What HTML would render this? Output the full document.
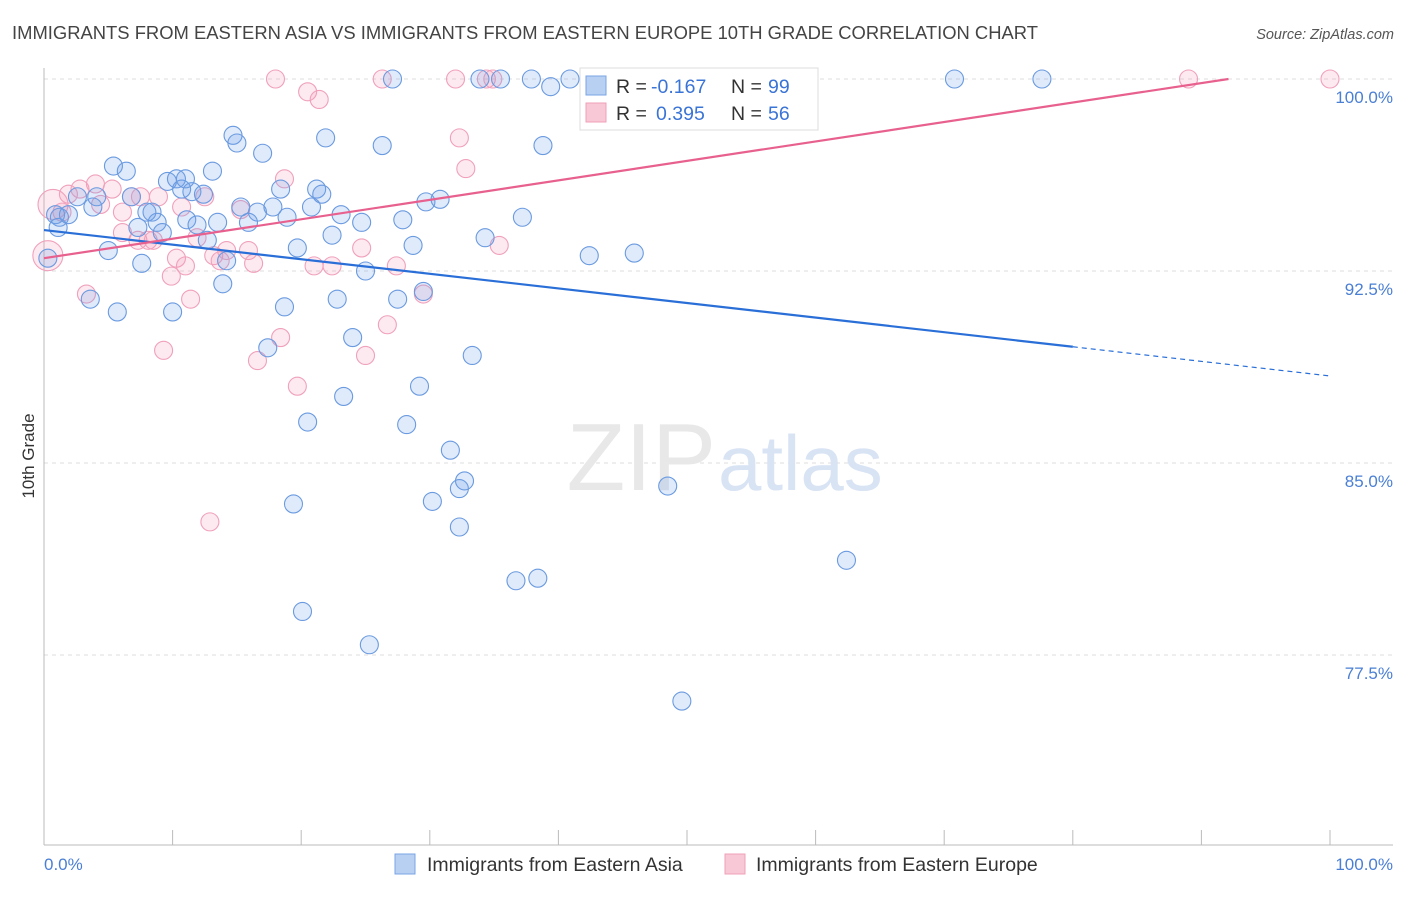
<!DOCTYPE html>
<html><head><meta charset="utf-8"><style>
body{margin:0;background:#fff;font-family:"Liberation Sans",sans-serif;}
svg text{font-family:"Liberation Sans",sans-serif;}
</style></head><body>
<svg id="chart" width="1406" height="892" viewBox="0 0 1406 892" xmlns="http://www.w3.org/2000/svg">
<text x="12" y="39" font-size="18" fill="#444" textLength="1026" lengthAdjust="spacingAndGlyphs">IMMIGRANTS FROM EASTERN ASIA VS IMMIGRANTS FROM EASTERN EUROPE 10TH GRADE CORRELATION CHART</text>
<text x="1394" y="39" font-size="14.5" fill="#555" font-style="italic" text-anchor="end">Source: ZipAtlas.com</text>
<g id="grid"></g>
<text x="716" y="490" font-size="96" fill="#e8e8e8" font-family="Liberation Serif" text-anchor="end">ZIP</text>
<text x="718" y="490" font-size="78" fill="#d8e3f4">atlas</text>
<line x1="44" y1="68" x2="44" y2="845" stroke="#bbb"/>
<line x1="44" y1="845" x2="1393" y2="845" stroke="#bbb"/>
<g id="ticks"></g>
<g id="points"></g>
<g id="trends"></g>
<text x="34" y="456" font-size="17" fill="#333" transform="rotate(-90 34 456)" text-anchor="middle">10th Grade</text>
<text x="44" y="870" font-size="17" fill="#4a7fd4">0.0%</text>
<text x="1393" y="870" font-size="17" fill="#4a7fd4" text-anchor="end">100.0%</text>
<g>
<rect x="580" y="68" width="238" height="62" fill="#fff" stroke="#ddd"/>
<rect x="586" y="76" width="20" height="19" fill="#b8d0f2" stroke="#7aa4e4"/>
<rect x="586" y="103" width="20" height="19" fill="#f8c8d6" stroke="#f0a0b8"/>
<text x="616" y="93" font-size="19.5" fill="#333">R = </text><text x="651" y="93" font-size="19.5" fill="#3a74d6">-0.167</text>
<text x="731" y="93" font-size="19.5" fill="#333">N = </text><text x="768" y="93" font-size="19.5" fill="#3a74d6">99</text>
<text x="616" y="120" font-size="19.5" fill="#333">R = </text><text x="656" y="120" font-size="19.5" fill="#3a74d6">0.395</text>
<text x="731" y="120" font-size="19.5" fill="#333">N = </text><text x="768" y="120" font-size="19.5" fill="#3a74d6">56</text>
</g>
<g>
<rect x="395" y="854" width="20" height="20" fill="#b8d0f2" stroke="#7aa4e4"/>
<text x="427" y="871" font-size="19.5" fill="#333">Immigrants from Eastern Asia</text></g>
<g>
<rect x="725" y="854" width="20" height="20" fill="#f8c8d6" stroke="#f0a0b8"/>
<text x="756" y="871" font-size="19.5" fill="#333">Immigrants from Eastern Europe</text></g>
</svg>
<script>
const yTicks=[100,92.5,85,77.5];
const yTickLabels=["100.0%","92.5%","85.0%","77.5%"];
const blueX=[0.9,1.2,1.9,2.6,3.8,4.1,5.0,5.4,5.7,6.4,6.8,7.3,7.6,8.0,8.4,8.8,9.2,9.6,10.0,10.3,10.7,11.1,11.5,11.9,12.4,12.7,13.1,13.5,13.9,14.2,14.7,15.0,15.3,15.9,16.6,17.0,17.4,17.8,18.4,18.7,18.9,19.7,20.1,20.5,20.8,21.2,21.6,21.9,22.4,22.8,23.1,23.3,24.0,24.7,25.0,26.3,27.1,27.5,27.9,28.2,28.7,29.2,29.5,29.7,30.2,30.8,31.6,32.3,32.3,32.7,33.3,33.9,34.3,35.5,36.7,37.2,37.9,38.4,38.8,39.4,40.9,42.4,43.0,45.9,48.5,49.6,53.0,62.4,70.8,77.6,19.4,25.3,11.0,3.6,0.3,1.1];
const blueY=[94.7,94.6,94.7,95.4,95.0,95.4,93.3,96.6,90.9,96.4,95.4,94.2,92.8,94.8,94.8,94.4,94.0,96.0,90.9,96.1,95.7,94.5,95.6,94.3,95.5,93.7,96.4,94.4,92.0,92.9,97.8,97.5,95.0,94.4,94.8,97.1,89.5,95.0,95.7,91.1,94.6,93.4,79.2,86.6,95.0,95.7,95.5,97.7,93.9,91.4,94.7,87.6,89.9,94.4,92.5,97.4,100,91.4,94.5,86.5,93.5,88.0,91.7,95.2,83.5,95.3,85.5,84.0,82.5,84.3,89.2,100,93.8,100,80.4,94.6,100,80.5,97.4,99.7,100,93.1,99.8,93.2,84.1,75.7,100,81.2,100,100,83.4,77.9,96.1,91.4,93.0,94.2];
const pinkX=[0.7,0.3,1.4,1.9,2.8,3.3,4.0,4.4,5.3,6.1,6.8,7.3,8.1,8.5,8.9,9.3,9.9,10.3,10.7,11.0,11.4,11.9,12.5,12.9,13.2,13.7,14.2,15.3,15.9,16.3,16.6,18.0,18.4,18.7,19.7,20.5,21.0,21.4,22.4,24.7,25.0,26.3,26.7,27.4,29.5,32.0,32.3,32.8,34.4,34.9,35.4,89.0,100,7.5,6.1];
const pinkY=[95.1,93.1,94.8,95.5,95.7,91.6,95.9,95.1,95.7,94.8,95.4,93.7,93.7,93.7,95.4,89.4,92.3,93.0,95.0,92.7,91.4,93.8,95.4,82.7,93.1,92.9,93.3,94.9,93.3,92.8,89.0,100,89.9,96.1,88.0,99.5,92.7,99.2,92.7,93.4,89.2,100,90.4,92.7,91.6,100,97.7,96.5,100,100,93.5,100,100,95.4,94.0];
const blueTrend=[94.1,88.4];
const pinkTrend=[93.0,100.6];
const NS="http://www.w3.org/2000/svg";
const X0=44,X1=1330,Y100=79,PXPER=25.6;
function sx(v){return X0+(X1-X0)*v/100;}
function sy(v){return Y100+(100-v)*PXPER;}
function mk(tag,attrs,parent){const e=document.createElementNS(NS,tag);for(const k in attrs)e.setAttribute(k,attrs[k]);parent.appendChild(e);return e;}
const grid=document.getElementById('grid');
yTicks.forEach((t,i)=>{
  const l=mk('line',{x1:44,x2:1393,y1:sy(t),y2:sy(t),stroke:'#ddd','stroke-dasharray':'4,4'},grid);
  
  
  const tx=mk('text',{x:1393,y:sy(t)+24,'font-size':17,fill:'#4a7fd4','text-anchor':'end'},grid);
  tx.textContent=yTickLabels[i];
  
  
});
const ticks=document.getElementById('ticks');
for(let i=1;i<=10;i++){
  const l=mk('line',{x1:sx(i*10),x2:sx(i*10),y1:830,y2:845,stroke:'#bbb'},ticks);
  
  
}
const pts=document.getElementById('points');
pinkX.forEach((x,i)=>{
  const r=i<2?15:9;
  const c=mk('circle',{cx:sx(x),cy:sy(pinkY[i]),r:r,fill:'rgba(244,150,180,0.2)',stroke:'#f0a0bb','stroke-width':1.1},pts);
  
  
});
blueX.forEach((x,i)=>{
  const c=mk('circle',{cx:sx(x),cy:sy(blueY[i]),r:9,fill:'rgba(110,160,230,0.22)',stroke:'#6a9ae0','stroke-width':1.1},pts);
  
  
});
const tr=document.getElementById('trends');
function by(x){return blueTrend[0]+(blueTrend[1]-blueTrend[0])*x/100;}
const b1=mk('line',{x1:sx(0),y1:sy(by(0)),x2:sx(80),y2:sy(by(80)),stroke:'#2a6fd8','stroke-width':2.2},tr);


const b2=mk('line',{x1:sx(80),y1:sy(by(80)),x2:sx(100),y2:sy(by(100)),stroke:'#2a6fd8','stroke-width':1.2,'stroke-dasharray':'5,4'},tr);


const pk=(100-pinkTrend[0])/(pinkTrend[1]-pinkTrend[0])*100;
const p1=mk('line',{x1:sx(0),y1:sy(pinkTrend[0]),x2:sx(Math.min(100,pk)),y2:sy(Math.min(100,pinkTrend[1])),stroke:'#e8608e','stroke-width':2.2},tr);


</script>
</body></html>
